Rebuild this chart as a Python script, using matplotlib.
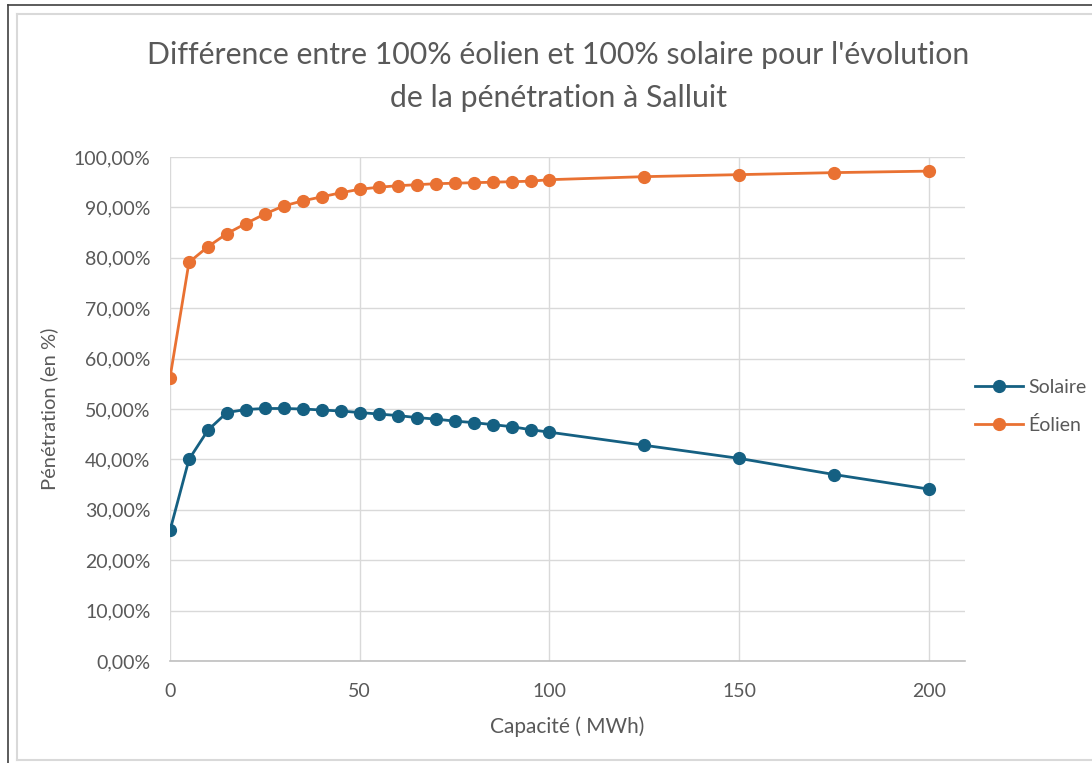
import matplotlib.pyplot as plt
from matplotlib.lines import Line2D
from matplotlib.ticker import FuncFormatter

# --- data ---
capacite = [0, 5, 10, 15, 20, 25, 30, 35, 40, 45, 50, 55, 60, 65, 70, 75, 80,
            85, 90, 95, 100, 125, 150, 175, 200]
solaire = [25.9, 40.0, 45.8, 49.3, 49.9, 50.1, 50.1, 50.0, 49.8, 49.6, 49.3,
           49.0, 48.7, 48.3, 48.0, 47.6, 47.3, 46.9, 46.5, 45.9, 45.4,
           42.8, 40.2, 37.0, 34.1]
eolien = [56.2, 79.1, 82.2, 84.8, 86.8, 88.7, 90.3, 91.3, 92.1, 92.9, 93.6,
          94.0, 94.3, 94.5, 94.7, 94.8, 94.9, 95.0, 95.1, 95.2, 95.5,
          96.1, 96.5, 96.9, 97.2]

plt.rcParams['font.family'] = ['Lato', 'DejaVu Sans']
grey_txt = '#595959'

W, H = 1092, 763
fig = plt.figure(figsize=(W / 100, H / 100), dpi=100)
ax = fig.add_axes([170 / W, 1 - 661 / H, 795 / W, 504 / H])

# outer dark frame (top and left) and light chart border
def fig_line(x, y, color, lw):
    fig.lines.append(Line2D([v / W for v in x], [1 - v / H for v in y],
                            transform=fig.transFigure, color=color, linewidth=lw))

fig_line([7.5, W], [5, 5], '#404040', 1.2)
fig_line([7.5, 7.5], [5, H], '#404040', 1.2)
fig_line([16.5, 16.5], [14, 760], '#D9D9D9', 1.5)
fig_line([16.5, W], [14, 14], '#D9D9D9', 1.5)
fig_line([16.5, W], [760, 760], '#D9D9D9', 1.5)

ax.plot(capacite, solaire, color='#156082', linewidth=2.0, marker='o',
        markersize=8.5, label='Solaire', zorder=3)
ax.plot(capacite, eolien, color='#E97132', linewidth=2.0, marker='o',
        markersize=8.5, label='Éolien', zorder=3)

ax.set_xlim(0, 209.5)
ax.set_ylim(0, 100)
ax.set_xticks([0, 50, 100, 150, 200])
ax.set_yticks(range(0, 101, 10))
ax.yaxis.set_major_formatter(FuncFormatter(lambda v, p: f'{v:.2f}%'.replace('.', ',')))

ax.grid(True, color='#D9D9D9', linewidth=1.0)
ax.set_axisbelow(True)
for s in ['top', 'right', 'left']:
    ax.spines[s].set_visible(False)
ax.spines['bottom'].set_color('#BFBFBF')
ax.spines['bottom'].set_linewidth(1.2)
ax.tick_params(length=0, colors=grey_txt, labelsize=14)
ax.tick_params(axis='y', pad=14)
ax.tick_params(axis='x', pad=15.5)

ax.set_xlabel('Capacité ( MWh)', fontsize=15, color=grey_txt, labelpad=12)
ax.set_ylabel('Pénétration (en %)', fontsize=14.5, color=grey_txt, labelpad=11)

fig.text(0.511, 1 - 55 / H, "Différence entre 100% éolien et 100% solaire pour l'évolution",
         ha='center', va='center', fontsize=21.8, color=grey_txt)
fig.text(0.511, 1 - 98 / H, 'de la pénétration à Salluit',
         ha='center', va='center', fontsize=21.8, color=grey_txt)

leg = ax.legend(loc='center left', bbox_to_anchor=(0.99, 0.505), frameon=False,
                fontsize=14, handlelength=2.5, labelspacing=1.0, handletextpad=0.25)
for t in leg.get_texts():
    t.set_color(grey_txt)

fig.savefig('out.png', dpi=100)
